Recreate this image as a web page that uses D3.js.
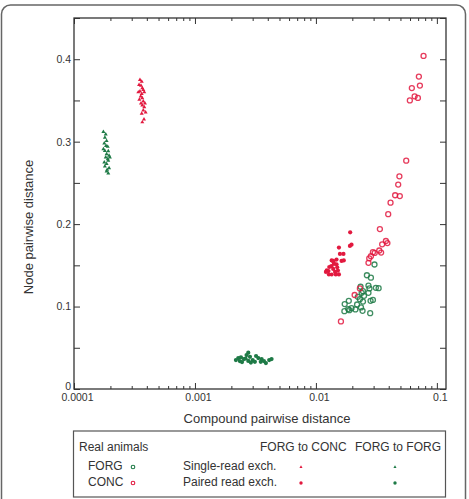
<!DOCTYPE html>
<html>
<head>
<meta charset="utf-8">
<script src="https://cdn.jsdelivr.net/npm/d3@7"></script>
<style>
  body { margin: 0; background: #fff; }
  text { font-family: "Liberation Sans", Arial, sans-serif; fill: #333; }
</style>
</head>
<body>
<div id="chart"></div>
<script>
// Data: [compound distance, node distance]
let forgReal = [
  [0.0305,0.151],[0.0264,0.138],[0.0285,0.135],[0.0234,0.124],[0.0272,0.1255],[0.0277,0.122],
  [0.0313,0.1227],[0.0330,0.1223],[0.0245,0.1186],[0.0239,0.1166],[0.0272,0.1166],[0.0250,0.113],
  [0.0231,0.109],[0.0245,0.106],[0.0283,0.107],[0.0296,0.108],[0.0187,0.107],[0.0173,0.103],
  [0.0197,0.098],[0.0219,0.1025],[0.0212,0.0965],[0.0236,0.099],[0.0185,0.097],[0.0172,0.0944],
  [0.0189,0.0956],[0.0243,0.0948],[0.0281,0.092],[0.0222,0.1118]
];
let concReal = [
  [0.0776,0.404],[0.0710,0.379],[0.0724,0.368],[0.0621,0.365],[0.0655,0.355],[0.0697,0.353],
  [0.0598,0.350],[0.0558,0.277],[0.0490,0.258],[0.0479,0.248],[0.0452,0.235],[0.0494,0.234],
  [0.0414,0.226],[0.0396,0.212],[0.0338,0.194],[0.0353,0.1755],[0.0379,0.1795],[0.0390,0.177],
  [0.0334,0.168],[0.0346,0.1655],[0.0296,0.166],[0.0306,0.165],[0.0285,0.161],[0.0276,0.1585],
  [0.0272,0.153],[0.0231,0.122],[0.0209,0.114],[0.0161,0.082]
];
let forgToConcSingle = [
  [0.000351,0.375],[0.000363,0.373],[0.000345,0.369],[0.000358,0.368],[0.000367,0.365],
  [0.000374,0.363],[0.000351,0.361],[0.000340,0.360],[0.000363,0.358],[0.000381,0.360],
  [0.000356,0.355],[0.000367,0.353],[0.000347,0.351],[0.000374,0.349],[0.000358,0.3466],
  [0.000386,0.3466],[0.000367,0.344],[0.000381,0.342],[0.000374,0.338],[0.000391,0.3357],
  [0.000363,0.334],[0.000379,0.327],[0.000367,0.3236]
];
let forgToConcPaired = [
  [0.0192,0.190],[0.0155,0.1715],[0.0191,0.1735],[0.0197,0.175],[0.0158,0.1638],[0.0169,0.1638],
  [0.0163,0.1553],[0.0170,0.156],[0.0139,0.1553],[0.0148,0.157],[0.0141,0.1517],[0.0148,0.1513],
  [0.0150,0.1477],[0.0134,0.149],[0.0129,0.148],[0.0123,0.144],[0.0127,0.143],[0.0121,0.142],
  [0.0139,0.1457],[0.0144,0.142],[0.0152,0.1437],[0.0135,0.1389],[0.0128,0.1389],[0.0146,0.139],
  [0.0155,0.139],[0.0135,0.156],[0.0140,0.154]
];
let forgToForgSingle = [
  [0.000175,0.312],[0.000183,0.309],[0.000180,0.305],[0.000186,0.301],[0.000178,0.298],
  [0.000184,0.295],[0.000190,0.294],[0.000175,0.291],[0.000180,0.289],[0.000192,0.2886],
  [0.000186,0.285],[0.000195,0.283],[0.000183,0.281],[0.000198,0.281],[0.000190,0.279],
  [0.000192,0.277],[0.000178,0.275],[0.000186,0.273],[0.000180,0.270],[0.000195,0.268],
  [0.000188,0.266],[0.000186,0.264],[0.000192,0.2615]
];
let forgToForgPaired = [
  [0.00218,0.0351],[0.00228,0.0375],[0.00235,0.0339],[0.00254,0.0363],[0.00267,0.0412],
  [0.00276,0.0440],[0.00285,0.0390],[0.00276,0.0340],[0.00300,0.0351],[0.00313,0.0330],
  [0.00334,0.0375],[0.00356,0.0363],[0.00372,0.0339],[0.00386,0.0315],[0.00411,0.0351],
  [0.00430,0.0363],[0.00245,0.0327],[0.00290,0.0320],[0.00320,0.0400],[0.00262,0.0370],
  [0.00350,0.0330],[0.00240,0.0385]
];

let xMajor = [0.0001, 0.001, 0.01, 0.1];
let xLabels = ["0.0001", "0.001", "0.01", "0.1"];
let yMajor = [0, 0.1, 0.2, 0.3, 0.4];
let yMinor = [0.05, 0.15, 0.25, 0.35, 0.45];

let red = "#e2193f";
let green = "#1e7a46";

let margin = {top: 18, right: 23, bottom: 110, left: 74};
let width = 469 - margin.left - margin.right;
let height = 499 - margin.top - margin.bottom;

let root = d3.select("#chart")
  .append("svg")
    .attr("width", 469)
    .attr("height", 499);

// outer rounded frame
root.append("rect")
  .attr("x", 1.5).attr("y", 5)
  .attr("width", 464).attr("height", 520)
  .attr("rx", 9)
  .attr("fill", "none")
  .attr("stroke", "#666")
  .attr("stroke-width", 1.5);

let svg = root.append("g")
  .attr("transform", "translate(" + margin.left + "," + margin.top + ")");

let x = d3.scaleLog().domain([0.0001, 0.119]).range([0, width]);
let y = d3.scaleLinear().domain([0, 0.45]).range([height, 0]);

// minor x ticks 2..9 per decade
let xMinor = [];
xMajor.forEach(function(d) {
  for (let k = 2; k <= 9; k++) if (d * k <= 0.119) xMinor.push(d * k);
});

function styleAxis(g) {
  g.select(".domain").remove();
  g.selectAll("line").attr("stroke", "#333");
  g.selectAll("text").style("font-size", "10.5px").attr("fill", "#333");
}

// X axis
svg.append("g")
  .attr("transform", "translate(0," + height + ")")
  .call(d3.axisBottom(x).tickValues(xMajor).tickSize(-6).tickPadding(5)
    .tickFormat(function(d, i) { return xLabels[i]; }))
  .call(styleAxis)
  .selectAll("text").attr("dx", 3);
svg.append("g")
  .attr("transform", "translate(0," + height + ")")
  .call(d3.axisBottom(x).tickValues(xMinor).tickSize(-3).tickFormat(""))
  .call(styleAxis);
svg.append("g")
  .call(d3.axisTop(x).tickValues(xMajor).tickSize(-6).tickFormat(""))
  .call(styleAxis);
svg.append("g")
  .call(d3.axisTop(x).tickValues(xMinor).tickSize(-3).tickFormat(""))
  .call(styleAxis);

// Y axis
svg.append("g")
  .call(d3.axisLeft(y).tickValues(yMajor).tickSize(-6).tickPadding(3)
    .tickFormat(function(d) { return d === 0 ? "0" : d3.format(".1f")(d); }))
  .call(styleAxis)
  .selectAll("text").attr("dy", function(d) { return d === 0 ? "0.05em" : "0.32em"; });
svg.append("g")
  .call(d3.axisLeft(y).tickValues(yMinor).tickSize(-6).tickFormat(""))
  .call(styleAxis);
svg.append("g")
  .attr("transform", "translate(" + width + ",0)")
  .call(d3.axisRight(y).tickValues(yMajor.concat(yMinor)).tickSize(-6).tickFormat(""))
  .call(styleAxis);

// plot frame
svg.append("rect")
  .attr("width", width).attr("height", height)
  .attr("fill", "none")
  .attr("stroke", "#333")
  .attr("stroke-width", 1.3);

// axis titles
svg.append("text")
  .attr("x", width / 2 + 7)
  .attr("y", height + 34)
  .attr("text-anchor", "middle")
  .style("font-size", "13px")
  .text("Compound pairwise distance");
svg.append("text")
  .attr("transform", "rotate(-90)")
  .attr("x", -(227 - margin.top))
  .attr("y", -margin.left + 33)
  .attr("text-anchor", "middle")
  .style("font-size", "13px")
  .text("Node pairwise distance");

let tri = d3.symbol().type(d3.symbolTriangle);

// Points
function openCircles(data, color) {
  svg.selectAll(null).data(data).enter().append("circle")
    .attr("cx", function(d) { return x(d[0]); })
    .attr("cy", function(d) { return y(d[1]); })
    .attr("r", 2.5)
    .attr("fill", "none")
    .attr("stroke", color)
    .attr("stroke-width", 1.3)
    .attr("stroke-opacity", 0.85);
}
function dots(data, color) {
  svg.selectAll(null).data(data).enter().append("circle")
    .attr("cx", function(d) { return x(d[0]); })
    .attr("cy", function(d) { return y(d[1]); })
    .attr("r", 2.1)
    .attr("fill", color);
}
function smalls(data, color) {
  svg.selectAll(null).data(data).enter().append("path")
    .attr("transform", function(d) { return "translate(" + x(d[0]) + "," + y(d[1]) + ")"; })
    .attr("d", tri.size(7))
    .attr("fill", color);
}

smalls(forgToForgSingle, green);
smalls(forgToConcSingle, red);
dots(forgToForgPaired, green);
dots(forgToConcPaired, red);
openCircles(forgReal, green);
openCircles(concReal, red);

// Legend
let leg = root.append("g");
leg.append("rect")
  .attr("x", 73.5).attr("y", 431)
  .attr("width", 372).attr("height", 66)
  .attr("fill", "none")
  .attr("stroke", "#555")
  .attr("stroke-width", 1.2);

let legText = [
  ["Real animals", 79, 451], ["FORG to CONC", 260, 451], ["FORG to FORG", 355, 451],
  ["FORG", 88, 470], ["CONC", 88, 486],
  ["Single-read exch.", 183, 470], ["Paired read exch.", 183, 486]
];
leg.selectAll(null).data(legText).enter().append("text")
  .attr("x", function(d) { return d[1]; })
  .attr("y", function(d) { return d[2]; })
  .style("font-size", "12px")
  .text(function(d) { return d[0]; });

leg.append("circle").attr("cx", 133).attr("cy", 467).attr("r", 1.8)
  .attr("fill", "none").attr("stroke", green).attr("stroke-width", 1.1);
leg.append("circle").attr("cx", 133).attr("cy", 483).attr("r", 1.8)
  .attr("fill", "none").attr("stroke", red).attr("stroke-width", 1.1);
leg.append("path").attr("transform", "translate(301,467)").attr("d", tri.size(4)).attr("fill", red);
leg.append("path").attr("transform", "translate(395,467)").attr("d", tri.size(4)).attr("fill", green);
leg.append("circle").attr("cx", 301).attr("cy", 483).attr("r", 1.7).attr("fill", red);
leg.append("circle").attr("cx", 395).attr("cy", 483).attr("r", 1.7).attr("fill", green);
</script>
</body>
</html>
